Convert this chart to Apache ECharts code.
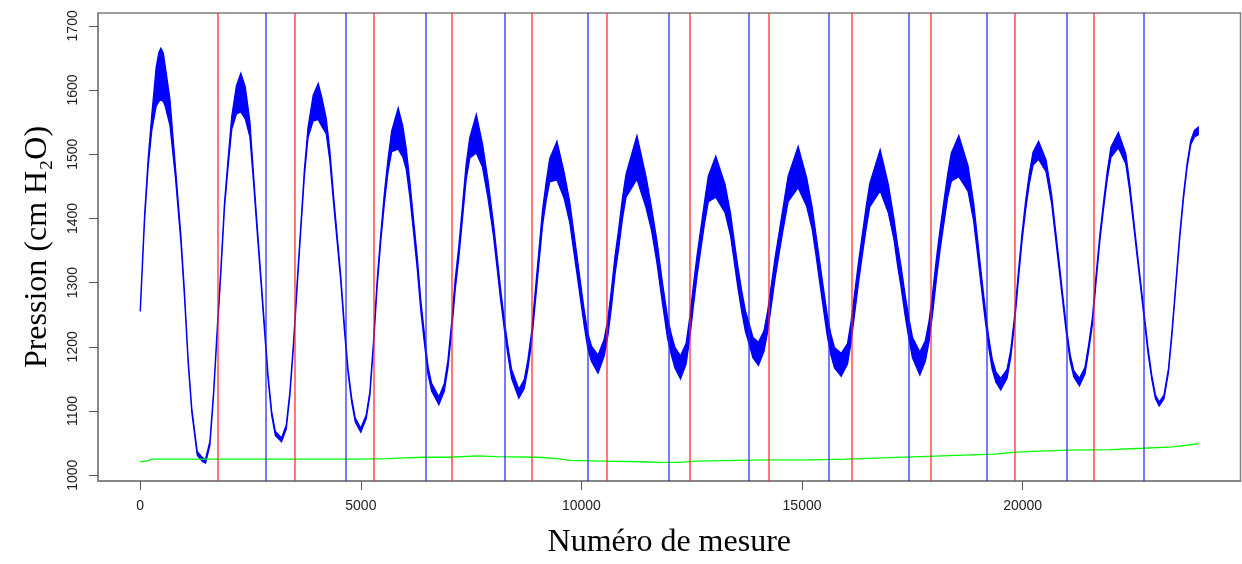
<!DOCTYPE html>
<html><head><meta charset="utf-8">
<script src="https://cdn.jsdelivr.net/npm/echarts@6/dist/echarts.min.js"></script>
<style>html,body{margin:0;padding:0;background:#fff}#c{width:1242px;height:564px}</style>
</head><body><div id="c"></div>
<script>
// Measurement index of each sampled point of the pressure trace
const measureX = [1,97,179,261,360,420,467,520,560,673,797,920,1003,1085,1168,1291,1414,1480,1579,1662,1744,1826,1909,1991,2074,2180,2280,2380,2485,2568,2650,2733,2815,2897,2979,3062,3202,3309,3391,3474,3556,3638,3721,3803,3920,4034,4120,4215,4297,4380,4462,4544,4627,4709,4792,4874,4998,5121,5204,5286,5368,5450,5533,5615,5698,5846,5950,6028,6110,6192,6275,6357,6439,6522,6604,6769,6892,6974,7057,7139,7221,7304,7386,7469,7617,7757,7881,8004,8086,8169,8251,8333,8416,8581,8704,8787,8869,8951,9034,9116,9198,9281,9445,9610,9734,9816,9898,9981,10063,10146,10228,10376,10516,10599,10681,10763,10846,10928,11011,11258,11464,11587,11711,11834,11951,12035,12119,12246,12372,12456,12540,12624,12708,12792,12876,13045,13255,13381,13465,13549,13633,13717,13802,13886,14012,14138,14222,14306,14390,14474,14559,14685,14912,15105,15231,15316,15400,15484,15568,15652,15736,15887,16031,16115,16199,16283,16367,16451,16535,16771,16956,17082,17166,17250,17334,17419,17503,17671,17797,17881,17965,18049,18133,18217,18302,18385,18554,18764,18890,18974,19058,19143,19227,19311,19395,19504,19647,19731,19815,19900,19984,20068,20152,20236,20362,20531,20656,20741,20825,20909,20993,21077,21161,21288,21414,21498,21582,21666,21750,21834,21918,22002,22171,22339,22423,22507,22591,22675,22759,22843,22927,23011,23096,23205,23306,23390,23474,23558,23642,23727,23811,23895,23980];
// Pressure (cm H2O), centre of the noisy trace
const pressure = [1258,1400,1487,1549,1605,1620,1625,1620,1608,1565,1472,1369,1281,1178,1101,1034,1024,1022,1050,1127,1225,1317,1420,1487,1549,1585,1596,1580,1539,1462,1384,1307,1230,1153,1096,1065,1055,1075,1127,1204,1297,1384,1472,1534,1572,1582,1565,1544,1498,1431,1369,1307,1230,1163,1117,1086,1070,1091,1127,1204,1297,1369,1431,1482,1520,1540,1520,1493,1446,1390,1333,1266,1214,1163,1137,1116,1137,1173,1230,1297,1348,1410,1472,1510,1532,1498,1446,1384,1333,1281,1235,1194,1158,1127,1142,1173,1214,1276,1338,1400,1441,1475,1490,1451,1410,1369,1328,1286,1245,1209,1189,1173,1199,1230,1276,1328,1369,1415,1451,1495,1441,1400,1348,1285,1230,1204,1183,1168,1189,1230,1281,1328,1369,1410,1446,1465,1431,1390,1348,1307,1271,1240,1220,1199,1189,1209,1240,1281,1323,1359,1395,1446,1480,1441,1400,1359,1317,1276,1235,1204,1183,1172,1189,1225,1271,1317,1359,1400,1436,1475,1431,1384,1343,1307,1266,1230,1199,1174,1194,1225,1271,1323,1369,1410,1451,1480,1497,1462,1410,1359,1307,1256,1209,1173,1153,1142,1158,1189,1240,1307,1369,1420,1462,1493,1506,1482,1431,1379,1328,1276,1225,1183,1158,1145,1163,1199,1240,1307,1369,1420,1467,1503,1522,1493,1451,1400,1348,1297,1245,1194,1153,1122,1111,1122,1163,1225,1297,1369,1431,1482,1518,1532,1536];
// Half-width of the noise band around the trace (cm H2O)
const noiseHalfWidth = [3,4,6,12,30,38,40,38,32,20,8,5,4,3,3,3,3,3,3,3,3,4,4,6,10,22,30,25,12,6,5,4,4,3,3,3,3,3,3,3,4,4,5,8,20,28,22,12,8,6,5,4,4,3,3,3,3,3,3,4,5,6,8,10,16,32,24,16,12,10,9,8,7,6,6,6,6,6,7,8,9,10,12,16,30,18,14,10,9,8,7,7,7,7,7,7,8,9,10,12,14,18,30,20,16,15,14,13,12,12,12,14,13,13,14,14,15,16,18,34,24,18,17,16,16,16,16,18,16,16,16,16,16,17,20,32,22,17,16,16,16,16,16,16,18,16,16,16,16,16,17,20,32,22,17,16,16,16,16,16,16,18,16,16,16,16,16,17,18,32,22,16,16,16,16,16,16,18,16,16,16,16,16,17,18,22,32,20,14,12,10,9,8,8,8,9,7,6,6,6,6,7,8,10,14,9,7,6,6,5,5,5,5,6,5,5,5,5,5,5,6,8,12,8,6,5,4,4,4,4,3,3,3,3,3,3,3,3,3,3,3,5,6,8];
// Atmospheric reference trace (green)
const atmX = [1,150,261,1000,2000,3144,4000,5000,5615,6000,6439,7000,7633,8086,9000,9487,9734,10500,11381,11783,12204,12624,13500,14306,15200,15989,16800,17671,18500,19353,19858,20500,21035,22000,22717,23400,23979];
const atmY = [1021,1022,1025,1025,1025,1025,1025,1025,1026,1027,1028,1028,1030,1029,1028,1026,1023,1022,1021,1020,1020,1022,1023,1024,1024,1025,1027,1029,1031,1033,1036,1038,1039,1040,1042,1044,1049];
// Vertical markers
const redMarks = [1752,3512,5303,7063,8876,10582,12447,14238,16127,17918,19812,21602];
const blueMarks = [2848,4652,6465,8271,10136,11972,13800,15613,17426,19186,21000,22744];
// Tick labels
const xTicks = [0,5000,10000,15000,20000];
const yTicks = [1000,1100,1200,1300,1400,1500,1600,1700];

const chart = echarts.init(document.getElementById('c'));
const markData = redMarks.map(v => ({xAxis: v, lineStyle: {color: '#ff2020', width: 1.5, type: 'solid', opacity: 0.8}}))
  .concat(blueMarks.map(v => ({xAxis: v, lineStyle: {color: '#2020ff', width: 1.5, type: 'solid', opacity: 0.8}})));

chart.setOption({
  animation: false,
  backgroundColor: '#ffffff',
  grid: {left: 98, right: 1.5, top: 13, bottom: 80, show: true, borderColor: '#808080', borderWidth: 1.5, backgroundColor: 'transparent'},
  xAxis: {
    type: 'value', min: -958, max: 24939,
    axisLine: {show: true, onZero: false, lineStyle: {color: '#808080', width: 1.5}}, splitLine: {show: false},
    axisTick: {show: true, customValues: xTicks, length: 9, lineStyle: {color: '#555', width: 1}},
    axisLabel: {customValues: xTicks, formatter: v => String(v), fontSize: 14, color: '#222', fontFamily: 'Liberation Sans', margin: 18},
    name: 'Numéro de mesure', nameLocation: 'middle', nameGap: 46,
    nameTextStyle: {fontFamily: 'Liberation Serif', fontSize: 32, color: '#000'}
  },
  yAxis: {
    type: 'value', min: 991, max: 1720,
    axisLine: {show: true, onZero: false, lineStyle: {color: '#808080', width: 1.5}}, splitLine: {show: false},
    axisTick: {show: true, customValues: yTicks, length: 9, lineStyle: {color: '#555', width: 1}},
    axisLabel: {customValues: yTicks, formatter: v => String(v), rotate: 90, fontSize: 14, color: '#222', fontFamily: 'Liberation Sans', margin: 18},
    name: 'Pression (cm H₂O)', nameLocation: 'middle', nameGap: 44, nameRotate: 90,
    nameTextStyle: {fontFamily: 'Liberation Serif', fontSize: 32, color: '#000'}
  },
  series: [
    {
      type: 'custom', coordinateSystem: 'cartesian2d', clip: true, z: 2,
      data: [[0, 1300]],
      renderItem: function (params, api) {
        const up = [], lo = [];
        for (let i = 0; i < measureX.length; i++) {
          up.push(api.coord([measureX[i], pressure[i] + noiseHalfWidth[i]]));
          lo.push(api.coord([measureX[i], pressure[i] - noiseHalfWidth[i]]));
        }
        return {type: 'polygon', shape: {points: up.concat(lo.reverse())},
          style: {fill: '#0000ff', stroke: '#0000ff', lineWidth: 1.3}};
      }
    },
    {
      type: 'line', z: 3, showSymbol: false, symbol: 'none',
      data: atmX.map((x, i) => [x, atmY[i]]),
      lineStyle: {color: '#00ff00', width: 1.3},
      markLine: {silent: true, symbol: ['none', 'none'], label: {show: false}, animation: false, data: markData}
    }
  ]
});
</script></body></html>
